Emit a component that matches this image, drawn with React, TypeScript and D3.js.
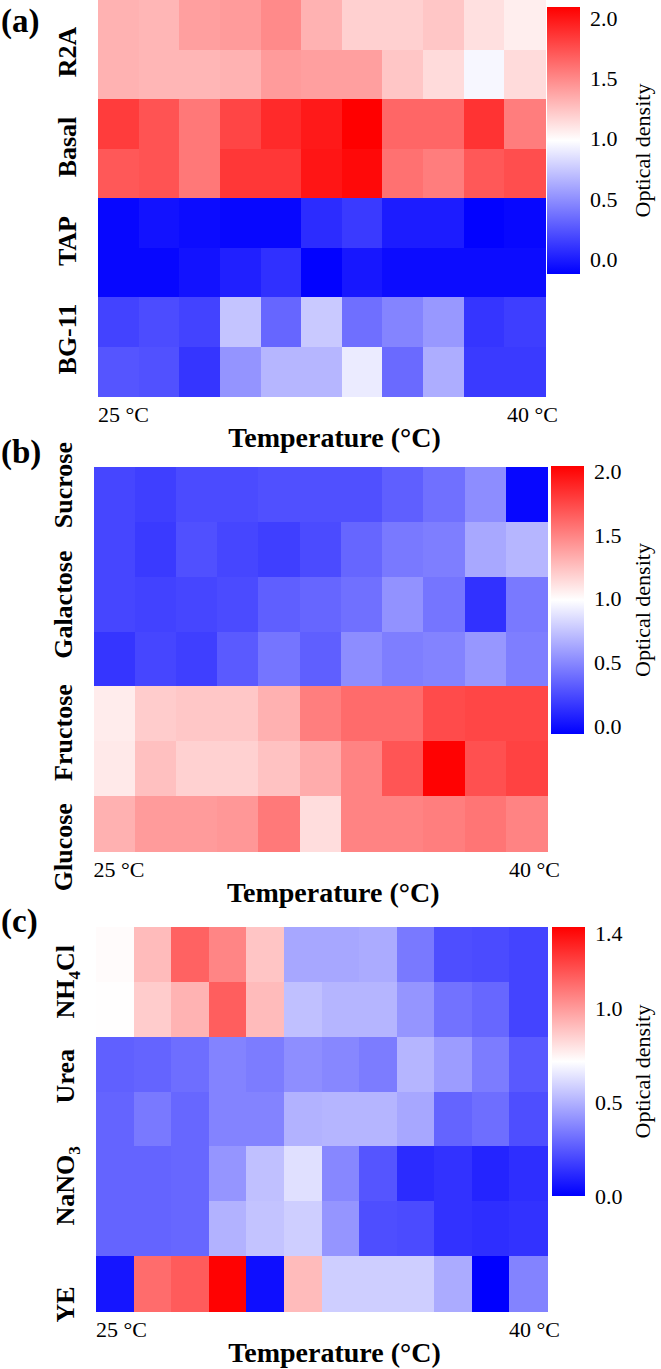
import React from 'react';
import * as d3 from 'd3';

const FONT = '"Liberation Serif", "Times New Roman", Times, serif';

// (a) growth media, optical density per temperature step (25 °C → 40 °C)
const mediaLabels = ['R2A', 'Basal', 'TAP', 'BG-11'];
const mediaLabelRows = [1.05, 2.97, 4.87, 6.85];
const mediaOD = [
  [1.32, 1.30, 1.40, 1.42, 1.49, 1.32, 1.19, 1.19, 1.23, 1.12, 1.06],
  [1.32, 1.30, 1.30, 1.32, 1.42, 1.40, 1.40, 1.23, 1.14, 0.95, 1.14],
  [1.83, 1.73, 1.57, 1.79, 1.91, 1.98, 2.09, 1.65, 1.65, 1.87, 1.55],
  [1.71, 1.73, 1.57, 1.85, 1.85, 2.00, 2.05, 1.60, 1.55, 1.71, 1.75],
  [-0.09, -0.04, -0.07, -0.09, -0.09, 0.07, 0.13, 0.00, 0.00, -0.11, -0.09],
  [-0.09, -0.09, -0.04, 0.02, 0.09, -0.11, -0.02, -0.07, -0.07, -0.07, -0.07],
  [0.17, 0.21, 0.17, 0.73, 0.32, 0.75, 0.36, 0.45, 0.54, 0.11, 0.15],
  [0.25, 0.23, 0.11, 0.52, 0.67, 0.67, 0.90, 0.34, 0.63, 0.13, 0.13],
];
const mediaColorDomain = [-0.12, 2.09];
const mediaTicks = [0, 0.5, 1.0, 1.5, 2.0];

// (b) carbon sources
const carbonLabels = ['Sucrose', 'Galactose', 'Fructose', 'Glucose'];
const carbonLabelRows = [0.33, 2.51, 4.84, 6.93];
const carbonOD = [
  [0.23, 0.20, 0.25, 0.25, 0.27, 0.27, 0.27, 0.33, 0.40, 0.52, -0.03],
  [0.23, 0.18, 0.27, 0.23, 0.20, 0.25, 0.36, 0.44, 0.46, 0.63, 0.69],
  [0.23, 0.21, 0.23, 0.25, 0.33, 0.36, 0.40, 0.54, 0.42, 0.14, 0.44],
  [0.16, 0.23, 0.20, 0.31, 0.42, 0.33, 0.52, 0.46, 0.48, 0.56, 0.46],
  [1.07, 1.20, 1.22, 1.22, 1.31, 1.52, 1.60, 1.60, 1.73, 1.75, 1.75],
  [1.08, 1.25, 1.18, 1.18, 1.24, 1.33, 1.50, 1.69, 2.03, 1.71, 1.77],
  [1.31, 1.40, 1.40, 1.42, 1.54, 1.13, 1.50, 1.50, 1.52, 1.56, 1.50],
];
const carbonColorDomain = [-0.06, 2.04];
const carbonTicks = [0, 0.5, 1.0, 1.5, 2.0];

// (c) nitrogen sources ("_n" marks a subscript)
const nitrogenLabels = ['NH_4Cl', 'Urea', 'NaNO_3', 'YE'];
const nitrogenLabelRows = [1.0, 2.72, 4.72, 6.88];
const nitrogenOD = [
  [0.73, 0.91, 1.16, 1.06, 0.88, 0.47, 0.47, 0.48, 0.34, 0.22, 0.21, 0.19],
  [0.72, 0.86, 0.93, 1.17, 0.91, 0.54, 0.51, 0.51, 0.42, 0.32, 0.29, 0.19],
  [0.27, 0.28, 0.31, 0.37, 0.35, 0.40, 0.38, 0.35, 0.51, 0.44, 0.35, 0.25],
  [0.28, 0.34, 0.29, 0.37, 0.37, 0.50, 0.51, 0.51, 0.47, 0.28, 0.31, 0.22],
  [0.28, 0.28, 0.29, 0.42, 0.54, 0.63, 0.38, 0.24, 0.12, 0.14, 0.10, 0.13],
  [0.28, 0.28, 0.29, 0.50, 0.55, 0.58, 0.42, 0.22, 0.21, 0.14, 0.13, 0.14],
  [0.06, 1.13, 1.18, 1.43, 0.04, 0.91, 0.58, 0.58, 0.58, 0.48, 0.00, 0.37],
];
const nitrogenColorDomain = [0.0, 1.435];
const nitrogenTicks = [0, 0.5, 1.0, 1.4];

const tempLabels = ['25 °C', '40 °C'];
const xTitle = 'Temperature (°C)';
const cbTitle = 'Optical density';

type Box = { x0: number; x1: number; y0: number; y1: number };
type Bar = { x: number; w: number; y0: number; y1: number };

interface PanelProps {
  id: string;
  letter: string;
  letterY: number;
  values: number[][];
  labels: string[];
  labelRows: number[];
  colorDomain: number[];
  ticks: number[];
  box: Box;
  cb: Bar;
}

// split "NH_4Cl" into normal / subscript pieces
const labelParts = (s: string) =>
  s.split(/_(\d)/).map((t, i) => ({ t, sub: i % 2 === 1 })).filter(p => p.t);

const Panel: React.FC<PanelProps> = ({ id, letter, letterY, values, labels, labelRows, colorDomain, ticks, box, cb }) => {
  const nRows = values.length;
  const nCols = values[0].length;
  const x = d3.scaleBand<number>().domain(d3.range(nCols)).range([box.x0, box.x1]);
  const y = d3.scaleBand<number>().domain(d3.range(nRows)).range([box.y0, box.y1]);
  const rowPos = d3.scaleLinear().domain([0, nRows]).range([box.y0, box.y1]);
  const mid = (colorDomain[0] + colorDomain[1]) / 2;
  const color = d3.scaleLinear<string>()
    .domain([colorDomain[0], mid, colorDomain[1]])
    .range(['#0000ff', '#ffffff', '#ff0000'])
    .clamp(true);
  const cbY = d3.scaleLinear().domain(colorDomain).range([cb.y1, cb.y0]);
  const fmt = d3.format('.1f');

  return (
    <g>
      <defs>
        <linearGradient id={`grad-${id}`} x1="0" y1="1" x2="0" y2="0">
          <stop offset="0%" stopColor="#0000ff" />
          <stop offset="50%" stopColor="#ffffff" />
          <stop offset="100%" stopColor="#ff0000" />
        </linearGradient>
      </defs>

      <text x={1} y={letterY} fontSize={33} fontWeight="bold">{letter}</text>

      {values.map((row, r) =>
        row.map((v, c) => (
          <rect
            key={`${r}-${c}`}
            x={x(c)}
            y={y(r)}
            width={x.bandwidth() + 0.6}
            height={y.bandwidth() + 0.6}
            fill={color(v)}
            shapeRendering="crispEdges"
          />
        ))
      )}

      {labels.map((lab, i) => (
        <text
          key={lab}
          transform={`translate(${box.x0 - 22},${rowPos(labelRows[i])}) rotate(-90)`}
          textAnchor="middle"
          fontSize={26}
          fontWeight="bold"
        >
          {labelParts(lab).map((p, k) =>
            p.sub ? (
              <tspan key={k} fontSize={17} dy={6}>{p.t}</tspan>
            ) : (
              <tspan key={k} dy={k > 0 ? -6 : 0}>{p.t}</tspan>
            )
          )}
        </text>
      ))}

      <text x={box.x0} y={box.y1 + 26} fontSize={22}>{tempLabels[0]}</text>
      <text x={box.x1 + 13} y={box.y1 + 26} fontSize={22} textAnchor="end">{tempLabels[1]}</text>
      <text x={(box.x0 + box.x1) / 2 + 13} y={box.y1 + 51} fontSize={28} fontWeight="bold" textAnchor="middle">
        {xTitle}
      </text>

      <rect x={cb.x} y={cb.y0} width={cb.w} height={cb.y1 - cb.y0} fill={`url(#grad-${id})`} />
      {ticks.map(t => (
        <text key={t} x={cb.x + cb.w + 10} y={cbY(t)} dy="0.35em" fontSize={22}>{fmt(t)}</text>
      ))}
      <text
        transform={`translate(650,${(cb.y0 + cb.y1) / 2 + 10}) rotate(-90)`}
        textAnchor="middle"
        fontSize={22}
      >
        {cbTitle}
      </text>
    </g>
  );
};

export default function App() {
  return (
    <svg
      width={661}
      height={1369}
      style={{ position: 'absolute', left: 0, top: 0, background: '#fff' }}
      fontFamily={FONT}
    >
      <rect width={661} height={1369} fill="#fff" />
      <Panel
        id="a" letter="(a)" letterY={32}
        values={mediaOD} labels={mediaLabels} labelRows={mediaLabelRows}
        colorDomain={mediaColorDomain} ticks={mediaTicks}
        box={{ x0: 98, x1: 545, y0: 0, y1: 396 }}
        cb={{ x: 547, w: 33, y0: 7, y1: 274 }}
      />
      <Panel
        id="b" letter="(b)" letterY={463}
        values={carbonOD} labels={carbonLabels} labelRows={carbonLabelRows}
        colorDomain={carbonColorDomain} ticks={carbonTicks}
        box={{ x0: 93.5, x1: 547, y0: 467, y1: 851 }}
        cb={{ x: 551, w: 33, y0: 466, y1: 734 }}
      />
      <Panel
        id="c" letter="(c)" letterY={932}
        values={nitrogenOD} labels={nitrogenLabels} labelRows={nitrogenLabelRows}
        colorDomain={nitrogenColorDomain} ticks={nitrogenTicks}
        box={{ x0: 96, x1: 547, y0: 927, y1: 1311 }}
        cb={{ x: 552, w: 33, y0: 927, y1: 1196 }}
      />
    </svg>
  );
}
